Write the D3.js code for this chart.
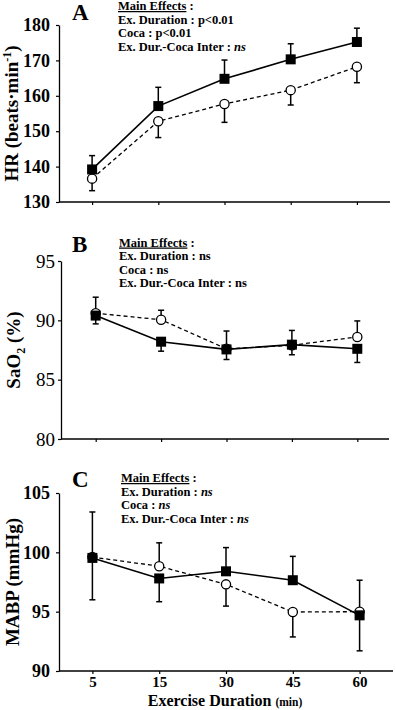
<!DOCTYPE html>
<html>
<head>
<meta charset="utf-8">
<script src="https://cdn.jsdelivr.net/npm/d3@7"></script>
<style>
  body { margin: 0; background: #fff; }
  svg { display: block; }
  svg text { font-family: "Liberation Serif", "Times New Roman", Tinos, "DejaVu Serif", serif !important; fill: #000; }
</style>
</head>
<body>
<svg id="chart" width="396" height="710"></svg>
<script>
// exercise duration categories (min)
const durations = ["5", "15", "30", "45", "60"];

// panel A - heart rate
const hrTicks = [130, 140, 150, 160, 170, 180];
const hrFilled = [139.2, 157.1, 164.8, 170.3, 175.2];
const hrFilledErr = [143.1, 162.4, 170.1, 174.7, 179.1];
const hrOpen = [136.6, 152.8, 157.7, 161.6, 168.2];
const hrOpenErr = [133.2, 148.2, 152.5, 157.4, 163.7];

// panel B - arterial O2 saturation
const saTicks = [80, 85, 90, 95];
const saFilled = [90.4, 88.2, 87.55, 87.95, 87.6];
const saFilledErr = [89.7, 87.4, 86.7, 87.1, 86.45];
const saOpen = [90.6, 90.05, 87.6, 87.9, 88.6];
const saOpenErr = [91.95, 90.85, 89.1, 89.15, 89.95];

// panel C - mean arterial blood pressure
const mabpTicks = [90, 95, 100, 105];
const mabpFilled = [99.53, 97.8, 98.4, 97.65, 94.69];
const mabpFilledErr = [103.4, 95.84, 100.4, 99.66, 91.7];
const mabpOpen = [99.6, 98.83, 97.3, 94.97, 95.0];
const mabpOpenErr = [96.0, 100.8, 95.47, 92.87, 97.65];

const svg = d3.select("#chart");
const SERIF = "'Liberation Serif', 'Times New Roman', serif";

function drawPanel(p) {
    const g = svg.append("g");
    const x = d3.scalePoint().domain(durations).range([p.x0, p.x1]).padding(0.5);
    const y = d3.scaleLinear().domain(d3.extent(p.ticks)).range([p.bottom, p.top]);

    // y axis
    const ya = g.append("g")
        .attr("transform", "translate(" + p.axisX + ",0)")
        .call(d3.axisLeft(y).tickValues(p.ticks).tickSize(3).tickPadding(p.tickPad).tickSizeOuter(0));
    ya.attr("font-family", SERIF);
    ya.select(".domain").attr("stroke-width", 1.3);
    ya.selectAll(".tick line").attr("stroke-width", 1.2);
    ya.selectAll("text")
        .style("font-size", p.tickFont + "px")
        .style("font-weight", p.tickBold ? "bold" : "normal");

    // x axis
    const xa = g.append("g")
        .attr("transform", "translate(0," + p.bottom + ")")
        .call(d3.axisBottom(x).tickSize(3).tickSizeOuter(0).tickFormat(p.showX ? null : ""));
    xa.attr("font-family", SERIF);
    xa.select(".domain").attr("d", "M" + p.axisX + ",0H" + p.xEnd).attr("stroke-width", 1.3);
    xa.selectAll(".tick line").attr("stroke-width", 1.2);
    xa.selectAll("text")
        .attr("y", 5)
        .style("font-size", "15px")
        .style("font-weight", "bold");

    // lines
    const line = d3.line().x((d, i) => x(durations[i])).y(d => y(d));
    g.append("path").datum(p.open).attr("d", line)
        .attr("fill", "none").attr("stroke", "#000").attr("stroke-width", 1.3)
        .attr("stroke-dasharray", "4,3");
    g.append("path").datum(p.filled).attr("d", line)
        .attr("fill", "none").attr("stroke", "#000").attr("stroke-width", 1.6);

    // error bars
    const bars = [];
    p.open.forEach((v, i) => bars.push({ k: durations[i], v: v, e: p.openErr[i] }));
    p.filled.forEach((v, i) => bars.push({ k: durations[i], v: v, e: p.filledErr[i] }));
    const eb = g.append("g").attr("stroke", "#000").attr("stroke-width", 1.5);
    eb.selectAll("line.v").data(bars).join("line").attr("class", "v")
        .attr("x1", d => x(d.k)).attr("x2", d => x(d.k))
        .attr("y1", d => y(d.v)).attr("y2", d => y(d.e));
    eb.selectAll("line.c").data(bars).join("line").attr("class", "c")
        .attr("x1", d => x(d.k) - 3).attr("x2", d => x(d.k) + 3)
        .attr("y1", d => y(d.e)).attr("y2", d => y(d.e));

    // markers
    g.selectAll("circle.open").data(p.open).join("circle").attr("class", "open")
        .attr("cx", (d, i) => x(durations[i])).attr("cy", d => y(d)).attr("r", 4.6)
        .attr("fill", "#fff").attr("stroke", "#000").attr("stroke-width", 1.3);
    g.selectAll("rect.filled").data(p.filled).join("rect").attr("class", "filled")
        .attr("x", (d, i) => x(durations[i]) - 5).attr("y", d => y(d) - 5)
        .attr("width", 10).attr("height", 10).attr("fill", "#000");

    // y title
    const yt = g.append("text")
        .attr("transform", "translate(" + p.titleX + "," + ((p.top + p.bottom) / 2 + p.titleDy) + ") rotate(-90)")
        .attr("text-anchor", "middle")
        .style("font-size", "19px").style("font-weight", "bold");
    p.title(yt);

    // panel letter
    g.append("text").attr("x", 72).attr("y", p.letterY)
        .style("font-size", "23px").style("font-weight", "bold").text(p.letter);

    // main effects note
    const note = g.append("text").attr("x", p.noteX).attr("y", p.noteY)
        .style("font-size", "12.5px").style("font-weight", "bold");
    note.append("tspan").attr("text-decoration", "underline").text("Main Effects");
    note.append("tspan").text(" :");
    p.notes.forEach((n, i) => {
        const t = g.append("text").attr("x", p.noteX).attr("y", p.noteY + 13.5 * (i + 1))
            .style("font-size", "12.5px").style("font-weight", "bold");
        t.append("tspan").text(n[0] + " : ");
        t.append("tspan").style("font-style", n[2] ? "italic" : "normal").text(n[1]);
    });
}

drawPanel({
    letter: "A", letterY: 20, x0: 59, x1: 390, axisX: 59, xEnd: 390,
    top: 25, bottom: 202, ticks: hrTicks, tickPad: 6, tickFont: 18, tickBold: true,
    filled: hrFilled, filledErr: hrFilledErr, open: hrOpen, openErr: hrOpenErr,
    titleX: 18, titleDy: 0,
    title: t => {
        t.append("tspan").text("HR (beats\u00b7min");
        t.append("tspan").attr("dy", -7).style("font-size", "12px").text("-1");
        t.append("tspan").attr("dy", 7).text(")");
    },
    noteX: 118, noteY: 10,
    notes: [["Ex. Duration", "p<0.01"], ["Coca", "p<0.01"], ["Ex. Dur.-Coca Inter", "ns", true]]
});

drawPanel({
    letter: "B", letterY: 252, x0: 63, x1: 390, axisX: 61, xEnd: 389,
    top: 261, bottom: 439, ticks: saTicks, tickPad: 3, tickFont: 19, tickBold: false,
    filled: saFilled, filledErr: saFilledErr, open: saOpen, openErr: saOpenErr,
    titleX: 20, titleDy: 0,
    title: t => {
        t.append("tspan").text("SaO");
        t.append("tspan").attr("dy", 5).style("font-size", "12px").text("2");
        t.append("tspan").attr("dy", -5).text(" (%)");
    },
    noteX: 119, noteY: 246.5,
    notes: [["Ex. Duration", "ns"], ["Coca", "ns"], ["Ex. Dur.-Coca Inter", "ns"]]
});

drawPanel({
    letter: "C", letterY: 487, x0: 59, x1: 393, axisX: 59, xEnd: 393,
    top: 493, bottom: 671, ticks: mabpTicks, tickPad: 6, tickFont: 18, tickBold: true,
    filled: mabpFilled, filledErr: mabpFilledErr, open: mabpOpen, openErr: mabpOpenErr,
    titleX: 19, titleDy: 0, showX: true,
    title: t => t.text("MABP (mmHg)"),
    noteX: 121, noteY: 482,
    notes: [["Ex. Duration", "ns", true], ["Coca", "ns", true], ["Ex. Dur.-Coca Inter", "ns", true]]
});

// x axis title
const xt = svg.append("text").attr("x", 225).attr("y", 706).attr("text-anchor", "middle")
    .style("font-size", "16px").style("font-weight", "bold");
xt.append("tspan").text("Exercise Duration ");
xt.append("tspan").style("font-size", "11.5px").text("(min)");
</script>
</body>
</html>
